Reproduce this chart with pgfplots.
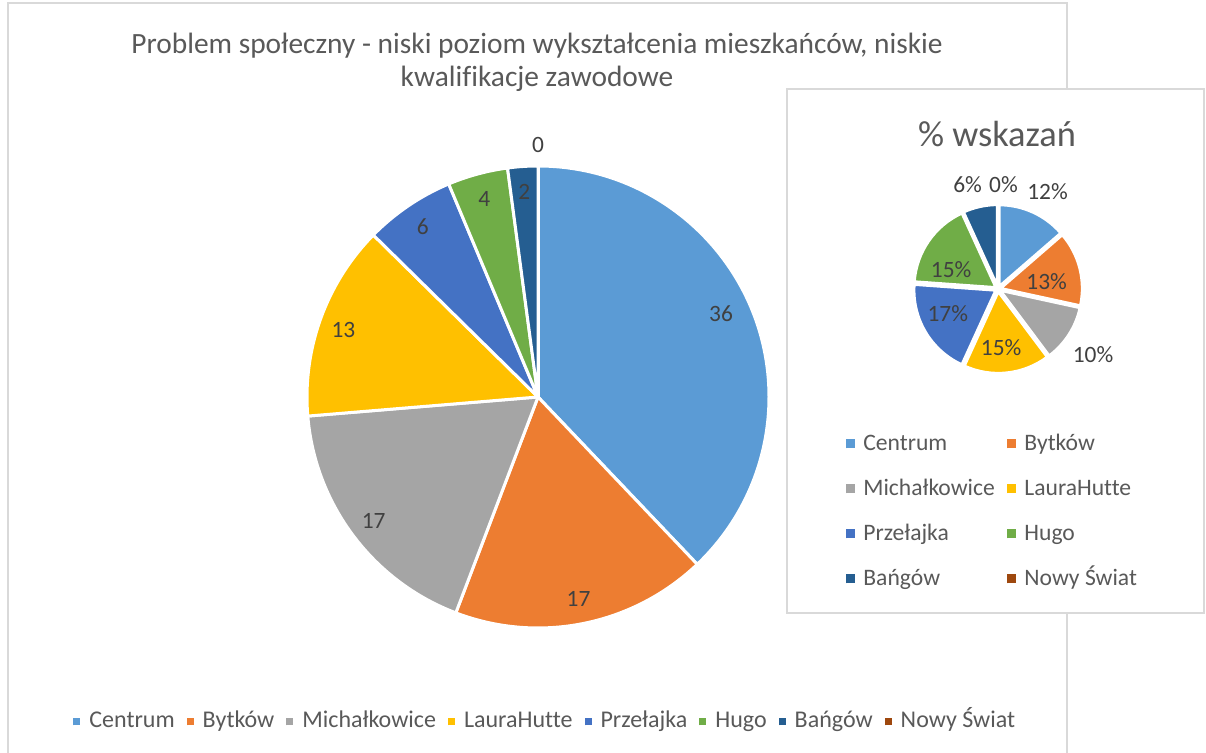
\documentclass[border=0pt]{standalone}
\usepackage{fontspec}
\setmainfont{Carlito}[Ligatures={NoCommon}]
\usepackage{pgfplots}
\usepackage{pgfplotstable}
\pgfplotsset{compat=1.18}
\definecolor{c1}{HTML}{5B9BD5}
\definecolor{c2}{HTML}{ED7D31}
\definecolor{c3}{HTML}{A5A5A5}
\definecolor{c4}{HTML}{FFC000}
\definecolor{c5}{HTML}{4472C4}
\definecolor{c6}{HTML}{70AD47}
\definecolor{c7}{HTML}{255E91}
\definecolor{c8}{HTML}{9E480E}
\definecolor{txtcol}{HTML}{595959}
\definecolor{labcol}{HTML}{404040}
\definecolor{framecol}{HTML}{D9D9D9}

% main pie: counts
\pgfplotstableread{
name value col labr lda
Centrum 36 c1 0.87 2.6
Bytków 17 c2 0.89 0
Michałkowice 17 c3 0.89 0
LauraHutte 13 c4 0.89 1
Przełajka 6 c5 0.89 0
Hugo 4 c6 0.89 0
Bańgów 2 c7 0.89 0
{Nowy Świat} 0 c8 1.09 0
}\maindata

% inset pie: % wskazań
\pgfplotstableread{
name value col labr lda
Centrum 12 c1 1.33 -2.5
Bytków 13 c2 0.60 -6
Michałkowice 10 c3 1.41 -2
LauraHutte 15 c4 0.71 -3
Przełajka 17 c5 0.68 -5
Hugo 15 c6 0.62 12
Bańgów 6 c7 1.32 4
{Nowy Świat} 0 c8 1.28 -3
}\insetdata

% #1 table #2 cx #3 cy #4 radius(pt) #5 explode(pt) #6 border #7 font #8 suffix
\newcommand\drawpie[8]{%
  \pgfplotstablegetrowsof{#1}%
  \pgfmathtruncatemacro\pienrows{\pgfplotsretval-1}%
  \xdef\pietotal{0}%
  \foreach \i in {0,...,\pienrows}{%
    \pgfplotstablegetelem{\i}{value}\of{#1}%
    \pgfmathsetmacro\tmp{\pietotal+\pgfplotsretval}%
    \xdef\pietotal{\tmp}}%
  \xdef\piecum{0}%
  \foreach \i in {0,...,\pienrows}{%
    \pgfplotstablegetelem{\i}{value}\of{#1}\let\sv\pgfplotsretval
    \pgfplotstablegetelem{\i}{col}\of{#1}\let\sc\pgfplotsretval
    \pgfplotstablegetelem{\i}{labr}\of{#1}\let\slr\pgfplotsretval
    \pgfplotstablegetelem{\i}{lda}\of{#1}\let\sld\pgfplotsretval
    \pgfmathsetmacro\sa{90-360*(\piecum/\pietotal)}%
    \pgfmathsetmacro\sb{90-360*((\piecum+\sv)/\pietotal)}%
    \pgfmathsetmacro\sm{(\sa+\sb)/2}%
    \pgfmathsetmacro\slabang{\sm+\sld}%
    \pgfmathsetmacro\slabrad{#4*\slr}%
    \filldraw[fill=\sc, draw=white, line width=#6, line join=round]
      (axis cs:#2,#3) ++(\sm:#5pt) -- ++(\sa:#4pt)
      arc[start angle=\sa, end angle=\sb, radius=#4pt] -- cycle;
    \path (axis cs:#2,#3) ++(\slabang:\slabrad pt)
      node[text=labcol, font=#7, inner sep=0pt]{\sv#8};%
    \pgfmathsetmacro\tmp{\piecum+\sv}%
    \xdef\piecum{\tmp}}%
}

\newcommand\lmk[2]{\raisebox{1pt}{\textcolor{#1}{\rule{#2}{#2}}}}
\newcommand\bl[2]{\lmk{#1}{3.5pt}\hspace{4.5pt}#2}

\begin{document}
\begin{tikzpicture}
\useasboundingbox (0,0) rectangle (603pt,376.5pt);
\fill[white] (0,0) rectangle (603pt,376.5pt);
\begin{axis}[x=0.5pt, y=0.5pt, xmin=0, xmax=1206, ymin=0, ymax=753,
  hide axis, clip=false]
\pgfplotsextra{%
  % outer chart frame
  \draw[framecol, line width=1pt] (axis cs:8,-20) -- (axis cs:8,750) -- (axis cs:1067,750) -- (axis cs:1067,-20);
  % title
  \node[anchor=base, text=txtcol, font=\fontsize{14.7pt}{16pt}\selectfont, inner sep=0pt]
    at (axis cs:537,699) {Problem społeczny - niski poziom wykształcenia mieszkańców, niskie};
  \node[anchor=base, text=txtcol, font=\fontsize{14.7pt}{16pt}\selectfont, inner sep=0pt]
    at (axis cs:537,666) {kwalifikacje zawodowe};
  % main pie
  \drawpie{\maindata}{538}{356}{115.5}{0}{1.5pt}{\fontsize{11.7pt}{14pt}\selectfont}{}
  % bottom legend
  \node[anchor=base west, text=txtcol, font=\fontsize{12pt}{14pt}\selectfont, inner sep=0pt]
    at (axis cs:73,25.5) {%
    \bl{c1}{Centrum}\hspace{6pt}%
    \bl{c2}{Bytków}\hspace{6pt}%
    \bl{c3}{Michałkowice}\hspace{6pt}%
    \bl{c4}{LauraHutte}\hspace{6pt}%
    \bl{c5}{Przełajka}\hspace{6pt}%
    \bl{c6}{Hugo}\hspace{6pt}%
    \bl{c7}{Bańgów}\hspace{6pt}%
    \bl{c8}{Nowy Świat}};
  % inset box
  \filldraw[fill=white, draw=framecol, line width=1pt] (axis cs:787,140) rectangle (axis cs:1204,664);
  \node[anchor=base, text=txtcol, font=\fontsize{18.2pt}{20pt}\selectfont, inner sep=0pt]
    at (axis cs:997,606.5) {\% wskazań};
  \drawpie{\insetdata}{998}{464}{41}{1.2}{1.5pt}{\fontsize{11.7pt}{14pt}\selectfont}{\%}
  % inset legend
  \foreach \nm/\cl/\xx/\yy in {Centrum/c1/846/302.5, Bytków/c2/1007/302.5,
     Michałkowice/c3/846/257.5, LauraHutte/c4/1007/257.5,
     Przełajka/c5/846/212.5, Hugo/c6/1007/212.5,
     Bańgów/c7/846/167.5, Nowy Świat/c8/1007/167.5}{%
    \node[anchor=base west, text=txtcol, font=\fontsize{11.8pt}{14pt}\selectfont, inner sep=0pt]
      at (axis cs:\xx,\yy) {\lmk{\cl}{4.5pt}\hspace{4pt}\nm};
  }
}
\end{axis}
\end{tikzpicture}
\end{document}
